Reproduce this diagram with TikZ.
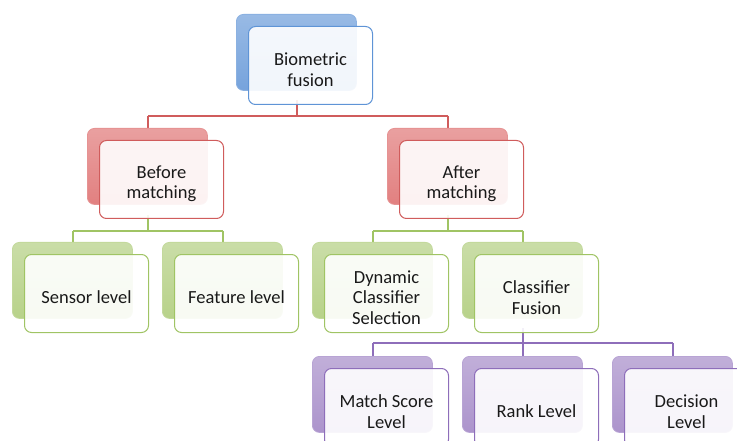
\documentclass[tikz,border=0pt]{standalone}
\usepackage{fontspec}
\setmainfont{Carlito}
\definecolor{bluebk}{RGB}{118,163,220}
\definecolor{blueln}{RGB}{95,148,214}
\definecolor{redbk}{RGB}{226,128,128}
\definecolor{redln}{RGB}{208,92,92}
\definecolor{greenbk}{RGB}{184,210,138}
\definecolor{greenln}{RGB}{160,196,100}
\definecolor{purplebk}{RGB}{172,148,204}
\definecolor{purpleln}{RGB}{142,110,186}
\tikzset{
  backbox/.style={rounded corners=7pt, draw=#1!85!white, line width=0.8pt,
    top color=#1!75!white, bottom color=#1, minimum width=120pt, minimum height=76pt,
    anchor=north west, inner sep=0pt},
  frontbox/.style={rounded corners=7pt, draw=#1, line width=1pt,
    fill=white, fill opacity=0.9, text opacity=1, minimum width=124pt, minimum height=78pt,
    anchor=north west, inner sep=0pt},
  label/.style={font=\fontsize{18.5}{20.5}\selectfont, align=center, text=black!90, inner sep=0pt},
  link/.style={draw=#1, line width=2pt},
}
% one hierarchy entry: back card, front card, caption
\newcommand{\hcard}[5]{% name, colour stem, x, y, text
  \node[backbox=#2bk] (#1b) at (#3,#4) {};
  \node[frontbox=#2ln] (#1f) at (#3+12,#4+12) {};
  \node[label] (#1) at ([yshift=-4pt]#1f.center) {#5};
}
\begin{document}
\begin{tikzpicture}[x=1pt,y=-1pt]
\useasboundingbox (0,0) rectangle (737,441);
\clip (0,0) rectangle (737,441);

% connectors (drawn first so the cards sit on top)
\coordinate (rl) at (148,116);
\coordinate (rr) at (448,116);
\draw[link=redln] (297,100) -- (297,116) (rl) -- (rr) (rl) -- ++(0,14) (rr) -- ++(0,14);

\coordinate (gl1) at (73,231);
\coordinate (gr1) at (223,231);
\draw[link=greenln] (148,215) -- (148,231) (gl1) -- (gr1) (gl1) -- ++(0,14) (gr1) -- ++(0,14);
\coordinate (gl2) at (373,231);
\coordinate (gr2) at (523,231);
\draw[link=greenln] (448,215) -- (448,231) (gl2) -- (gr2) (gl2) -- ++(0,14) (gr2) -- ++(0,14);

\coordinate (pl) at (373,343);
\coordinate (pm) at (523,343);
\coordinate (pr) at (673,343);
\draw[link=purpleln] (523,328) -- (pm) (pl) -- (pr) (pl) -- ++(0,14) (pm) -- ++(0,14) (pr) -- ++(0,14);

% cards
\hcard{bio}{blue}{236}{14}{Biometric\\fusion}
\hcard{bef}{red}{87}{128}{Before\\matching}
\hcard{aft}{red}{387}{128}{After\\matching}
\hcard{sen}{green}{12}{242}{Sensor level}
\hcard{fea}{green}{162}{242}{Feature level}
\hcard{dyn}{green}{312}{242}{Dynamic\\Classifier\\Selection}
\hcard{cfu}{green}{462}{242}{Classifier\\Fusion}
\hcard{msl}{purple}{312}{356}{Match Score\\Level}
\hcard{rnk}{purple}{462}{356}{Rank Level}
\hcard{dec}{purple}{612}{356}{Decision\\Level}
\end{tikzpicture}
\end{document}
